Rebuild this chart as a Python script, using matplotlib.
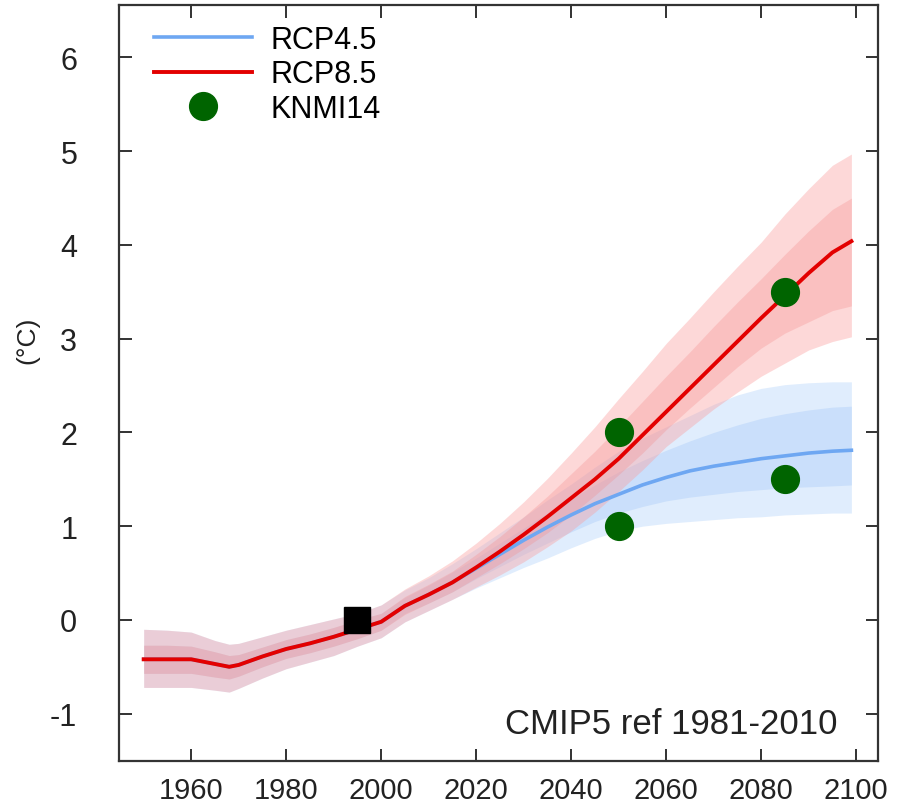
import numpy as np
import matplotlib
matplotlib.use("Agg")
import matplotlib.pyplot as plt

plt.rcParams['font.family'] = ['Liberation Sans', 'DejaVu Sans']
plt.rcParams['axes.unicode_minus'] = False

# historical part, shared by both scenarios
hist_years = [1950, 1955, 1960, 1965, 1968, 1970, 1975, 1980, 1985, 1990, 1995, 2000]
hist_mean = [-0.42, -0.42, -0.42, -0.47, -0.50, -0.48, -0.39, -0.31, -0.25, -0.18, -0.10, -0.02]
hist_hi = [-0.10, -0.11, -0.13, -0.22, -0.26, -0.25, -0.18, -0.11, -0.05, 0.01, 0.07, 0.16]
hist_lo = [-0.72, -0.72, -0.72, -0.75, -0.77, -0.73, -0.62, -0.52, -0.45, -0.38, -0.28, -0.19]
hist_ihi = [-0.27, -0.27, -0.28, -0.34, -0.38, -0.37, -0.29, -0.21, -0.15, -0.08, 0.00, 0.07]
hist_ilo = [-0.57, -0.57, -0.57, -0.61, -0.63, -0.60, -0.50, -0.41, -0.35, -0.28, -0.20, -0.11]

fut_years = [2005, 2010, 2015, 2020, 2025, 2030, 2035, 2040, 2045, 2050,
             2055, 2060, 2065, 2070, 2075, 2080, 2085, 2090, 2095, 2099]

rcp85_mean = [0.15, 0.27, 0.40, 0.56, 0.73, 0.91, 1.10, 1.30, 1.50, 1.72,
              1.97, 2.22, 2.47, 2.72, 2.97, 3.22, 3.46, 3.70, 3.92, 4.04]
rcp85_hi = [0.33, 0.47, 0.63, 0.82, 1.03, 1.26, 1.51, 1.78, 2.06, 2.36,
            2.65, 2.95, 3.22, 3.50, 3.77, 4.03, 4.33, 4.60, 4.85, 4.97]
rcp85_lo = [-0.02, 0.10, 0.22, 0.35, 0.48, 0.62, 0.78, 0.95, 1.15, 1.37,
            1.60, 1.85, 2.05, 2.25, 2.43, 2.60, 2.74, 2.88, 2.97, 3.02]
rcp85_ihi = [0.25, 0.38, 0.52, 0.70, 0.89, 1.10, 1.32, 1.56, 1.80, 2.06,
             2.33, 2.60, 2.86, 3.13, 3.39, 3.64, 3.90, 4.15, 4.38, 4.50]
rcp85_ilo = [0.06, 0.18, 0.30, 0.45, 0.60, 0.76, 0.93, 1.12, 1.33, 1.55,
             1.78, 2.03, 2.26, 2.48, 2.70, 2.90, 3.06, 3.18, 3.30, 3.35]

rcp45_mean = [0.15, 0.27, 0.40, 0.55, 0.70, 0.85, 0.99, 1.12, 1.24, 1.34,
              1.44, 1.52, 1.59, 1.64, 1.68, 1.72, 1.75, 1.78, 1.80, 1.81]
rcp45_hi = [0.32, 0.45, 0.60, 0.76, 0.93, 1.10, 1.28, 1.45, 1.63, 1.80,
            1.94, 2.06, 2.18, 2.30, 2.40, 2.47, 2.51, 2.53, 2.54, 2.54]
rcp45_lo = [-0.02, 0.10, 0.22, 0.34, 0.45, 0.56, 0.66, 0.77, 0.87, 0.95,
            1.00, 1.03, 1.05, 1.07, 1.09, 1.10, 1.12, 1.13, 1.14, 1.14]
rcp45_ihi = [0.24, 0.37, 0.51, 0.66, 0.82, 0.98, 1.14, 1.29, 1.44, 1.58,
             1.70, 1.81, 1.91, 2.00, 2.08, 2.15, 2.20, 2.24, 2.27, 2.28]
rcp45_ilo = [0.07, 0.18, 0.30, 0.44, 0.57, 0.70, 0.82, 0.94, 1.05, 1.14,
             1.21, 1.27, 1.31, 1.34, 1.37, 1.39, 1.41, 1.42, 1.43, 1.44]

knmi_years = [2050, 2050, 2085, 2085]
knmi_vals = [1.0, 2.0, 1.5, 3.5]
ref_year, ref_val = 1995, 0.0

x_ticks = [1960, 1980, 2000, 2020, 2040, 2060, 2080, 2100]
y_ticks = [-1, 0, 1, 2, 3, 4, 5, 6]


def join(h, f):
    return np.array(h + f)


yrs = join(hist_years, fut_years)

fig = plt.figure(figsize=(8.97, 8.12), dpi=100)
ax = fig.add_axes([119/897, 1 - 762/812, 759/897, 756/812])

# bands: blue first, red on top (overlap gives the mauve tint)
ax.fill_between(yrs, join(hist_lo, rcp45_lo), join(hist_hi, rcp45_hi),
                color='#c2dcfc', alpha=0.5, lw=0)
ax.fill_between(yrs, join(hist_ilo, rcp45_ilo), join(hist_ihi, rcp45_ihi),
                color='#a9cbf8', alpha=0.4, lw=0)
ax.fill_between(yrs, join(hist_lo, rcp85_lo), join(hist_hi, rcp85_hi),
                color='#fa9f9f', alpha=0.4, lw=0)
ax.fill_between(yrs, join(hist_ilo, rcp85_ilo), join(hist_ihi, rcp85_ihi),
                color='#f58a8a', alpha=0.3, lw=0)

ax.plot(yrs, join(hist_mean, rcp45_mean), color='#6ea7f2', lw=2.6, label='RCP4.5')
ax.plot(yrs, join(hist_mean, rcp85_mean), color='#e30000', lw=2.8, label='RCP8.5')
ax.plot(knmi_years, knmi_vals, 'o', color='#006400', ms=20, ls='none', label='KNMI14')
ax.plot([ref_year], [ref_val], 's', color='black', ms=19)

ax.set_xlim(1944.8, 2104.6)
ax.set_ylim(-1.505, 6.56)
ax.set_xticks(x_ticks)
ax.set_yticks(y_ticks)
ax.tick_params(direction='in', length=9, width=1.3, top=True, right=True,
               labelsize=22, colors='#222222')
ax.tick_params(axis='x', pad=11, labelsize=21)
ax.tick_params(axis='y', pad=30)
for s in ax.spines.values():
    s.set_linewidth(1.6)
    s.set_color('#333333')

ax.set_ylabel('(°C)', fontsize=19, color='#222222')
ax.yaxis.set_label_coords(-0.105, 0.558)

ax.text(0.946, 0.049, 'CMIP5 ref 1981-2010', transform=ax.transAxes,
        ha='right', va='center', fontsize=25, color='#222222')

ax.legend(loc='upper left', bbox_to_anchor=(0.03, 0.99), borderaxespad=0,
          frameon=False, fontsize=22, handlelength=3.2, handletextpad=0.6,
          labelspacing=0.15, markerscale=1.0, numpoints=1)

fig.savefig('out.png', dpi=100)
